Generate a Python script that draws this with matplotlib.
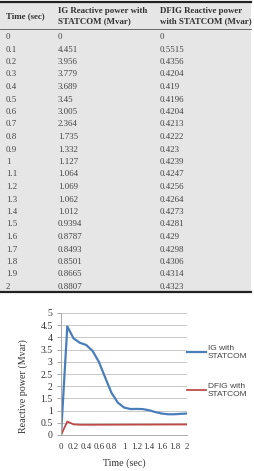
import matplotlib
matplotlib.use("Agg")
import matplotlib.pyplot as plt
from matplotlib.patches import Rectangle

# Datos de la tabla / gráfico
tiempo = [0, 0.1, 0.2, 0.3, 0.4, 0.5, 0.6, 0.7, 0.8, 0.9, 1,
          1.1, 1.2, 1.3, 1.4, 1.5, 1.6, 1.7, 1.8, 1.9, 2]
ig_q = [0, 4.451, 3.956, 3.779, 3.689, 3.45, 3.005, 2.364, 1.735, 1.332, 1.127,
        1.064, 1.069, 1.062, 1.012, 0.9394, 0.8787, 0.8493, 0.8501, 0.8665, 0.8807]
dfig_q = [0, 0.5515, 0.4356, 0.4204, 0.419, 0.4196, 0.4204, 0.4213, 0.4222, 0.423, 0.4239,
          0.4247, 0.4256, 0.4264, 0.4273, 0.4281, 0.429, 0.4298, 0.4306, 0.4314, 0.4323]
tiempo_txt = ["0", "0.1", "0.2", "0.3", "0.4", "0.5", "0.6", "0.7", "0.8", "0.9", "1",
              "1.1", "1.2", "1.3", "1.4", "1.5", "1.6", "1.7", "1.8", "1.9", "2"]
ig_txt = ["0", "4.451", "3.956", "3.779", "3.689", "3.45", "3.005", "2.364", "1.735", "1.332",
          "1.127", "1.064", "1.069", "1.062", "1.012", "0.9394", "0.8787", "0.8493", "0.8501",
          "0.8665", "0.8807"]
dfig_txt = ["0", "0.5515", "0.4356", "0.4204", "0.419", "0.4196", "0.4204", "0.4213", "0.4222",
            "0.423", "0.4239", "0.4247", "0.4256", "0.4264", "0.4273", "0.4281", "0.429",
            "0.4298", "0.4306", "0.4314", "0.4323"]
encabezados = ["Time (sec)", "IG Reactive power with\nSTATCOM (Mvar)",
               "DFIG Reactive power\nwith STATCOM (Mvar)"]

W, H = 254, 471
fig = plt.figure(figsize=(W / 100, H / 100), dpi=100)
serif = "Liberation Serif"

# --- Tabla (coordenadas en pixeles) ---
tab = fig.add_axes([0, 0, 1, 1])
tab.set_xlim(0, W)
tab.set_ylim(H, 0)
tab.axis("off")
tab.add_patch(Rectangle((0, 2), 251, 290, facecolor="#e6e6e6", edgecolor="none"))
tab.plot([0, 251], [2, 2], color="#222222", lw=1.6)
tab.plot([0, 251], [29, 29], color="#555555", lw=0.6)
tab.plot([0, 251], [292, 292], color="#222222", lw=1.6)

col_x = [6, 58, 160]
for x, h in zip(col_x, encabezados):
    tab.text(x, 16, h, fontsize=6.4, family=serif, weight="bold", va="center",
             ha="left", color="#333333", linespacing=1.35)

fila0, paso = 37, 12.5
for i, (t, a, b) in enumerate(zip(tiempo_txt, ig_txt, dfig_txt)):
    y = fila0 + i * paso
    for x, s in zip(col_x, (t, a, b)):
        tab.text(x, y, s, fontsize=6.4, family=serif, va="center", ha="left",
                 color="#444444")

# --- Gráfico ---
x0, x1, y0, y1 = 61, 187, 313, 435
ax = fig.add_axes([x0 / W, 1 - y1 / H, (x1 - x0) / W, (y1 - y0) / H])
ax.plot(tiempo, ig_q, color="#4a7ebb", lw=1.6, label="IG with\nSTATCOM")
ax.plot(tiempo, dfig_q, color="#be4b48", lw=1.3, label="DFIG with\nSTATCOM")
ax.set_xlim(0, 2)
ax.set_ylim(0, 5)
ax.set_yticks([0, 0.5, 1, 1.5, 2, 2.5, 3, 3.5, 4, 4.5, 5])
ax.set_yticklabels(["0", "0.5", "1", "1.5", "2", "2.5", "3", "3.5", "4", "4.5", "5"])
ax.set_xticks([0, 0.2, 0.4, 0.6, 0.8, 1, 1.2, 1.4, 1.6, 1.8, 2])
ax.set_xticklabels(["0", "0.2", "0.4", "0.6", "0.8", "1", "1.2", "1.4", "1.6", "1.8", "2"])
ax.grid(axis="y", color="#c8c8c8", lw=0.7)
ax.set_axisbelow(True)
for s in ["top", "right"]:
    ax.spines[s].set_visible(False)
for s in ["left", "bottom"]:
    ax.spines[s].set_color("#aaaaaa")
    ax.spines[s].set_linewidth(0.7)
ax.tick_params(axis="y", length=3, width=0.7, color="#aaaaaa", pad=3, labelsize=7)
ax.tick_params(axis="x", length=0, pad=6, labelsize=6.4)
for lab in ax.get_xticklabels() + ax.get_yticklabels():
    lab.set_family(serif)
    lab.set_color("#333333")
ax.set_xlabel("Time (sec)", family=serif, fontsize=7.2, color="#333333", labelpad=5)
ax.set_ylabel("Reactive power (Mvar)", family=serif, fontsize=7.2, color="#333333")
ax.yaxis.set_label_coords(-0.26, 0.4)

leg = ax.legend(loc="center left", bbox_to_anchor=(0.975, 0.52), frameon=False,
                prop={"family": "Liberation Sans", "size": 6}, handlelength=2.2,
                handletextpad=0.25, labelspacing=2.7, borderaxespad=0)
for t in leg.get_texts():
    t.set_color("#444444")

fig.savefig("out.png", dpi=100)
